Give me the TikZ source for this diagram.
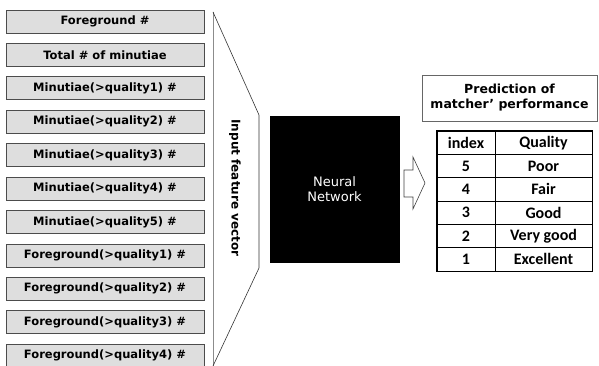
\documentclass[tikz,border=0pt]{standalone}
\usepackage{fontspec}
\setmainfont{DejaVu Sans}
\newfontfamily\calfont{Carlito}
\begin{document}
\begin{tikzpicture}[x=1pt,y=-1pt,
  featbox/.style={draw=black!70, line width=0.6pt, fill=black!13, minimum width=198pt, minimum height=23pt, inner sep=0pt, font=\bfseries\fontsize{11.5}{13}\selectfont, text=black},
  nnbox/.style={fill=black, draw=black, minimum width=129pt, minimum height=146pt, inner sep=0pt, align=center, text=white, font=\fontsize{13}{15.5}\selectfont},
  predbox/.style={draw=black!60, line width=0.6pt, minimum width=175pt, minimum height=46pt, inner sep=0pt, align=center, font=\bfseries\fontsize{12.5}{15}\selectfont},
  tabcell/.style={draw=black, line width=0.5pt, minimum height=23.33pt, inner sep=0pt, font=\calfont\bfseries\fontsize{16}{18}\selectfont},
  idxcell/.style={tabcell, minimum width=58pt},
  qualcell/.style={tabcell, minimum width=97pt},
  bracket/.style={draw=black!80, line width=0.6pt},
  blockarrow/.style={draw=black!75, line width=0.6pt, fill=white}
]
\useasboundingbox (0,0) rectangle (599,366);

% feature boxes
\node[featbox] (f1)  at (105,21.5)  {Foreground \#};
\node[featbox] (f2)  at (105,54.9)  {Total \# of minutiae};
\node[featbox] (f3)  at (105,88.3)  {Minutiae(>quality1) \#};
\node[featbox] (f4)  at (105,121.7) {Minutiae(>quality2) \#};
\node[featbox] (f5)  at (105,155.1) {Minutiae(>quality3) \#};
\node[featbox] (f6)  at (105,188.5) {Minutiae(>quality4) \#};
\node[featbox] (f7)  at (105,221.9) {Minutiae(>quality5) \#};
\node[featbox] (f8)  at (105,255.3) {Foreground(>quality1) \#};
\node[featbox] (f9)  at (105,288.7) {Foreground(>quality2) \#};
\node[featbox] (f10) at (105,322.1) {Foreground(>quality3) \#};
\node[featbox] (f11) at (105,355.5) {Foreground(>quality4) \#};

% bracket / input feature vector
\coordinate (b1) at (213,12);
\coordinate (b2) at (259,115);
\coordinate (b3) at (259,268);
\coordinate (b4) at (213,366);
\draw[black!45, line width=0.4pt] (b1) -- (b4);
\draw[bracket] (b1) -- (b2) -- (b3) -- (b4);
\node[rotate=-90, font=\bfseries\fontsize{12}{14}\selectfont] (ifv) at (235,188) {Input feature vector};

% neural network
\node[nnbox] (nn) at (334.5,189) {Neural\\Network};

% block arrow
\draw[blockarrow] (404,170) -- (413,170) -- (413,157) -- (425,183) -- (413,209) -- (413,197) -- (404,197) -- cycle;

% prediction label
\node[predbox] (pred) at (509.5,98) {Prediction of\\matcher' performance};

% table
\node[idxcell]  (t11) at (466,142.67) {index};
\node[qualcell] (t12) at (543.5,142.67) {Quality};
\node[idxcell]  (t21) at (466,166) {5};
\node[qualcell] (t22) at (543.5,166) {Poor};
\node[idxcell]  (t31) at (466,189.33) {4};
\node[qualcell] (t32) at (543.5,189.33) {Fair};
\node[idxcell]  (t41) at (466,212.67) {3};
\node[qualcell] (t42) at (543.5,212.67) {Good};
\node[idxcell]  (t51) at (466,236) {2};
\node[qualcell] (t52) at (543.5,236) {Very good};
\node[idxcell]  (t61) at (466,259.33) {1};
\node[qualcell] (t62) at (543.5,259.33) {Excellent};
\draw[line width=1.3pt] (t11.north west) rectangle (t62.south east);
\end{tikzpicture}
\end{document}
